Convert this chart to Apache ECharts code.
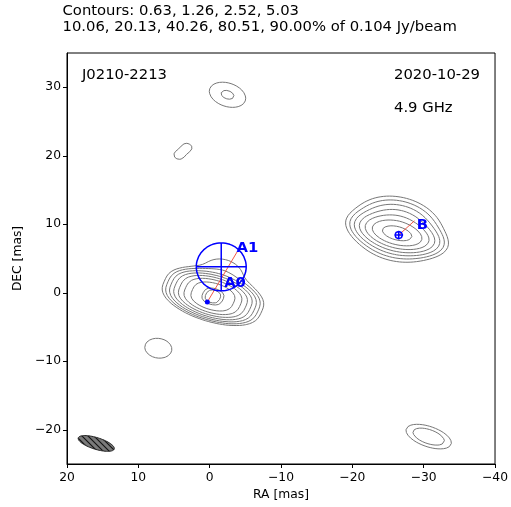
<!DOCTYPE html>
<html><head><meta charset="utf-8">
<script src="https://cdn.jsdelivr.net/npm/echarts@6/dist/echarts.min.js"></script>
<style>html,body{margin:0;padding:0;background:#fff}#c{width:511px;height:507px}</style>
</head><body><div id="c"></div>
<script>
// ---------------- data ----------------
const titleLines = ['Contours: 0.63, 1.26, 2.52, 5.03', '10.06, 20.13, 40.26, 80.51, 90.00% of 0.104 Jy/beam'];
const sourceName = 'J0210-2213';
const obsDate = '2020-10-29';
const obsFreq = '4.9 GHz';
const contourLevels = [0.63, 1.26, 2.52, 5.03, 10.06, 20.13, 40.26, 80.51, 90.00]; // % of peak
const peakFlux = 0.104; // Jy/beam
const xTicks = [20, 10, 0, -10, -20, -30, -40];
const yTicks = [-20, -10, 0, 10, 20, 30];

// brightness distribution (restored Gaussian features, relative to peak)
const featRA   = [-0.1, -0.8, -1.8, -26.3, -26.3, -2.5, -30.7, 7.2, 3.1, 4.4];
const featDEC  = [-1.35, 0.25, 2.6, 8.6, 9.3, 28.9, -21.0, -8.1, 21.3, 20.0];
const featAmp  = [0.8, 0.8, 0.012, 0.45, 0.15, 0.014, 0.024, 0.010, 0.0075, 0.0075];
const featSMaj = [2.25, 2.25, 2.6, 2.4, 2.6, 2.1, 2.05, 2.0, 1.0, 1.0];
const featSMin = [0.9, 0.9, 2.0, 1.0, 1.85, 1.35, 0.9, 1.5, 0.8, 0.8];
const featPA   = [72, 72, 72, 75, 75, 70, 70, 80, 70, 70];

// model-fit components
const compName   = ['A0', 'A1', 'B'];
const compRA     = [-1.62, 0.33, -26.5];
const compDEC    = [3.78, -1.35, 8.42];
const compRadius = [3.5, 0, 0.53];
const labelRA    = [-2.1, -3.84, -29.1];
const labelDEC   = [0.2, 5.35, 8.75];
const linkEndRA  = [null, -3.85, -28.7];
const linkEndDEC = [null, 5.97, 10.5];

// restoring beam
const beamRA = 15.9, beamDEC = -22.0, beamMaj = 5.3, beamMin = 1.7, beamPA = 72;

// ---------------- model grid & contours ----------------
const step = 0.2;
const xs = [], ys = [];
for (let v = -40; v <= 20 + 1e-9; v += step) xs.push(v);
for (let v = -25; v <= 35 + 1e-9; v += step) ys.push(v);
const F = [];
let fmax = 0;
for (let j = 0; j < ys.length; j++) {
  const row = new Float64Array(xs.length);
  for (let i = 0; i < xs.length; i++) {
    let s = 0;
    for (let k = 0; k < featRA.length; k++) {
      const de = xs[i] - featRA[k], dn = ys[j] - featDEC[k];
      const p = featPA[k] * Math.PI / 180;
      const u = de * Math.sin(p) + dn * Math.cos(p);
      const w = de * Math.cos(p) - dn * Math.sin(p);
      s += featAmp[k] * Math.exp(-0.5 * (u * u / (featSMaj[k] ** 2) + w * w / (featSMin[k] ** 2)));
    }
    row[i] = s; if (s > fmax) fmax = s;
  }
  F.push(row);
}
for (const row of F) for (let i = 0; i < row.length; i++) row[i] /= fmax;

function marching(L) {
  const nx = xs.length, ny = ys.length;
  const pts = new Map(), adj = new Map();
  function pt(key, x1, y1, v1, x2, y2, v2) {
    if (!pts.has(key)) { const t = (L - v1) / (v2 - v1); pts.set(key, [x1 + t * (x2 - x1), y1 + t * (y2 - y1)]); }
    return key;
  }
  function link(a, b) {
    if (!adj.has(a)) adj.set(a, []); if (!adj.has(b)) adj.set(b, []);
    adj.get(a).push(b); adj.get(b).push(a);
  }
  for (let j = 0; j < ny - 1; j++) for (let i = 0; i < nx - 1; i++) {
    const a = F[j][i], b = F[j][i + 1], c = F[j + 1][i + 1], d = F[j + 1][i];
    const A = a >= L, B = b >= L, C = c >= L, D = d >= L;
    if (A === B && B === C && C === D) continue;
    const eb = A !== B ? pt('h' + i + '_' + j, xs[i], ys[j], a, xs[i + 1], ys[j], b) : null;
    const er = B !== C ? pt('v' + (i + 1) + '_' + j, xs[i + 1], ys[j], b, xs[i + 1], ys[j + 1], c) : null;
    const et = D !== C ? pt('h' + i + '_' + (j + 1), xs[i], ys[j + 1], d, xs[i + 1], ys[j + 1], c) : null;
    const el = A !== D ? pt('v' + i + '_' + j, xs[i], ys[j], a, xs[i], ys[j + 1], d) : null;
    const list = [eb, er, et, el].filter(k => k !== null);
    if (list.length === 2) link(list[0], list[1]);
    else if (list.length === 4) {
      const ctr = (a + b + c + d) / 4 >= L;
      if (ctr === A) { link(eb, er); link(et, el); } else { link(eb, el); link(er, et); }
    }
  }
  const visited = new Set(), lines = [];
  function trace(start) {
    const line = [pts.get(start)]; visited.add(start); let cur = start;
    while (true) {
      const nb = adj.get(cur).filter(k => !visited.has(k));
      if (!nb.length) { if (adj.get(cur).includes(start) && line.length > 2) line.push(pts.get(start)); break; }
      cur = nb[0]; visited.add(cur); line.push(pts.get(cur));
    }
    return line;
  }
  for (const [k, v] of adj) if (v.length === 1 && !visited.has(k)) lines.push(trace(k));
  for (const k of adj.keys()) if (!visited.has(k)) lines.push(trace(k));
  return lines;
}

const series = [];
contourLevels.forEach(lv => {
  marching(lv / 100).forEach(line => {
    series.push({ type: 'line', data: line, symbol: 'none', showSymbol: false, silent: true, animation: false,
      lineStyle: { color: '#777777', width: 1 }, z: 2 });
  });
});

// red links
compName.forEach((n, i) => {
  if (linkEndRA[i] === null) return;
  series.push({ type: 'line', data: [[compRA[i], compDEC[i]], [linkEndRA[i], linkEndDEC[i]]], symbol: 'none',
    silent: true, animation: false, lineStyle: { color: 'rgba(240,70,50,0.9)', width: 1 }, z: 3 });
});
// component markers
compName.forEach((n, i) => {
  const r = compRadius[i];
  if (r > 0) {
    const circ = [];
    for (let t = 0; t <= 72; t++) { const a = t / 72 * 2 * Math.PI; circ.push([compRA[i] + r * Math.cos(a), compDEC[i] + r * Math.sin(a)]); }
    const st = { color: '#0000ff', width: 1.5 };
    series.push({ type: 'line', data: circ, symbol: 'none', silent: true, animation: false, lineStyle: st, z: 4 });
    series.push({ type: 'line', data: [[compRA[i] - r, compDEC[i]], [compRA[i] + r, compDEC[i]]], symbol: 'none', silent: true, animation: false, lineStyle: st, z: 4 });
    series.push({ type: 'line', data: [[compRA[i], compDEC[i] - r], [compRA[i], compDEC[i] + r]], symbol: 'none', silent: true, animation: false, lineStyle: st, z: 4 });
  } else {
    series.push({ type: 'scatter', data: [[compRA[i], compDEC[i]]], symbol: 'circle', symbolSize: 5, silent: true, animation: false,
      itemStyle: { color: '#0000ff', opacity: 1 }, z: 4 });
  }
});
// labels
series.push({ type: 'scatter', silent: true, animation: false, z: 5, symbolSize: 1, itemStyle: { color: 'rgba(0,0,0,0)', opacity: 1 },
  data: compName.map((n, i) => [labelRA[i], labelDEC[i], n]),
  label: { show: true, position: [0, 0], align: 'left', verticalAlign: 'bottom', formatter: p => p.value[2],
    color: '#0000ff', fontWeight: 'bold', fontSize: 14.8, fontFamily: 'DejaVu Sans', opacity: 1 } });

// beam (hatched)
const pc = document.createElement('canvas'); pc.width = 6; pc.height = 6;
const g = pc.getContext('2d');
g.fillStyle = '#7a7a7a'; g.fillRect(0, 0, 6, 6);
g.strokeStyle = '#111'; g.lineWidth = 1.1;
[-6, 0, 6].forEach(ox => { g.beginPath(); g.moveTo(ox - 1, -1); g.lineTo(ox + 7, 7); g.stroke(); });
series.push({ type: 'custom', silent: true, animation: false, z: 3, data: [[beamRA, beamDEC]],
  renderItem: (params, api) => {
    const p = beamPA * Math.PI / 180, a = beamMaj / 2, b = beamMin / 2, pts = [];
    for (let t = 0; t < 72; t++) {
      const ang = t / 72 * 2 * Math.PI, u = a * Math.cos(ang), w = b * Math.sin(ang);
      pts.push(api.coord([beamRA + u * Math.sin(p) + w * Math.cos(p), beamDEC + u * Math.cos(p) - w * Math.sin(p)]));
    }
    return { type: 'polygon', shape: { points: pts }, style: { fill: { type: 'pattern', image: pc, repeat: 'repeat' }, stroke: '#222', lineWidth: 1 } };
  } });

const fmt = v => v < 0 ? '\u2212' + (-v) : String(v);
const axisFont = { color: '#000', fontSize: 12.3, fontFamily: 'DejaVu Sans' };
const txt = (text, x, y, size) => ({ type: 'text', x, y, silent: true,
  style: { text, fill: '#000', font: size + 'px "DejaVu Sans"', textAlign: 'left', textVerticalAlign: 'top' } });

const chart = echarts.init(document.getElementById('c'), null, { renderer: 'canvas' });
chart.setOption({
  animation: false,
  backgroundColor: '#fff',
  grid: { left: 67, right: 13, top: 53, bottom: 43, show: true, borderColor: '#000', borderWidth: 1, backgroundColor: 'transparent' },
  xAxis: { type: 'value', min: -40, max: 20, interval: 10, inverse: true,
    axisLine: { show: true, onZero: false, lineStyle: { color: '#000', width: 1 } },
    axisTick: { show: true, inside: false, length: 4, customValues: xTicks, lineStyle: { color: '#000' } },
    axisLabel: Object.assign({ formatter: fmt, margin: 8, customValues: xTicks }, axisFont), splitLine: { show: false },
    name: 'RA [mas]', nameLocation: 'middle', nameGap: 24, nameTextStyle: axisFont },
  yAxis: { type: 'value', min: -25, max: 35, interval: 10,
    axisLine: { show: true, onZero: false, lineStyle: { color: '#000', width: 1 } },
    axisTick: { show: true, inside: false, length: 4, customValues: yTicks, lineStyle: { color: '#000' } },
    axisLabel: Object.assign({ formatter: fmt, margin: 6, customValues: yTicks }, axisFont), splitLine: { show: false },
    name: 'DEC [mas]', nameLocation: 'middle', nameGap: 40, nameRotate: 90, nameTextStyle: axisFont },
  graphic: [
    txt(titleLines[0], 62.5, 3.5, 14.8),
    txt(titleLines[1], 62.5, 19.2, 14.8),
    txt(sourceName, 82, 67.8, 14.8),
    txt(obsDate, 394, 67.8, 14.8),
    txt(obsFreq, 394, 100.8, 14.8)
  ],
  series
});
</script></body></html>
